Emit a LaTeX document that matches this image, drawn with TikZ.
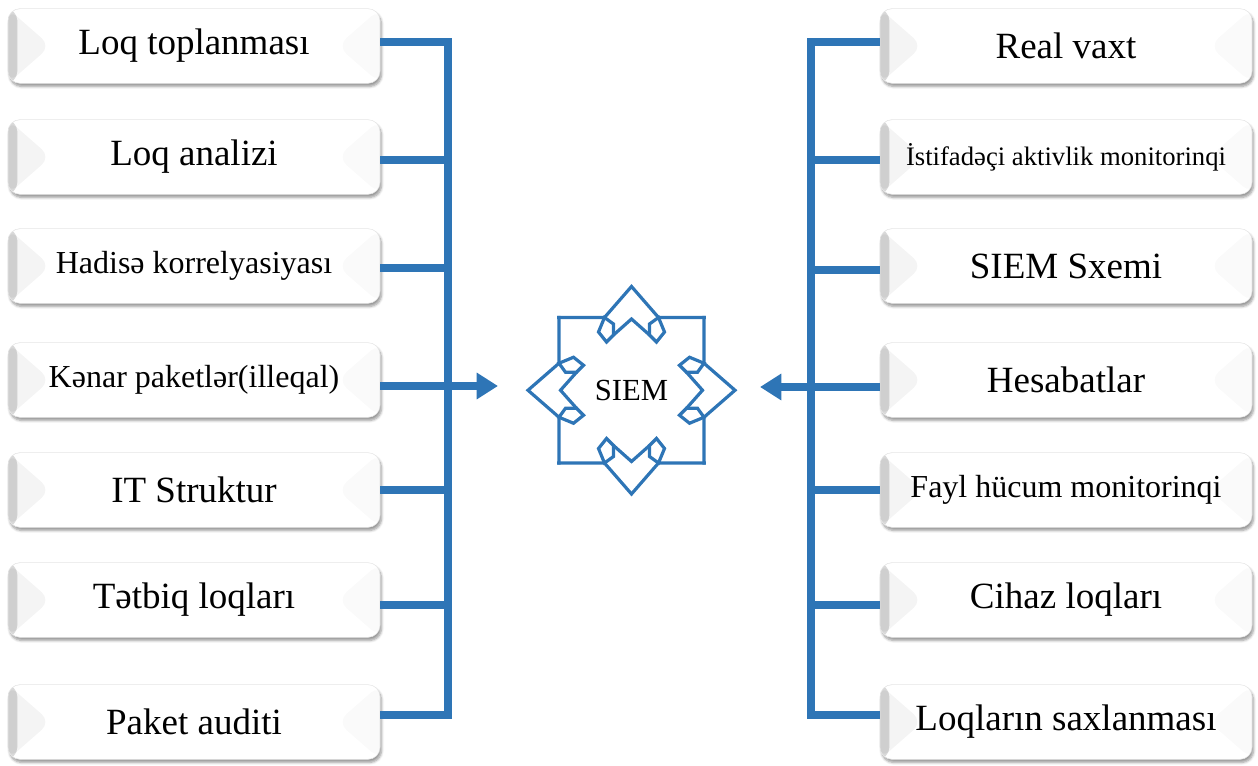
\documentclass[tikz,border=0pt]{standalone}
\usepackage{fontspec}
\setmainfont{Liberation Serif}
\usetikzlibrary{arrows.meta,shadows.blur,calc}
\definecolor{busblue}{RGB}{46,117,182}
\begin{document}
\begin{tikzpicture}[x=0.75pt,y=-0.75pt,
  box/.style={draw=gray!20, line width=0.4pt, fill=white, rounded corners=9pt,
    minimum width=279pt, minimum height=56pt, inner sep=0pt,
    blur shadow={shadow xshift=1.2pt, shadow yshift=-2.4pt, shadow blur steps=6, shadow opacity=40},
    path picture={
      \shade[left color=gray!30, right color=white]
        (path picture bounding box.north west) rectangle ([xshift=7pt]path picture bounding box.south west);
      \fill[black, opacity=0.045] (path picture bounding box.north west) -- ([xshift=32pt]path picture bounding box.west) -- (path picture bounding box.south west) -- cycle;
      \fill[black, opacity=0.02] (path picture bounding box.south east) -- ([xshift=-32pt]path picture bounding box.east) -- (path picture bounding box.north east) -- cycle;
    },
    font=\fontsize{27.75}{30}\selectfont},
  mid/.style={font=\fontsize{24}{26}\selectfont},
  sml/.style={font=\fontsize{20}{22}\selectfont},
  bus/.style={draw=busblue, line width=6.2pt, line join=miter},
  tip/.style={-{Triangle[length=16pt,width=19pt]}},
  siem/.style={draw=busblue, line width=2.4pt, line join=miter}
]
\useasboundingbox (0,0) rectangle (1258,766);

% left boxes
\node[box] (l1) at (194,46) {Loq toplanması};
\node[box] (l2) at (194,157) {Loq analizi};
\node[box,mid] (l3) at (194,266) {Hadisə korrelyasiyası};
\node[box,mid] (l4) at (194,380) {Kənar paketlər(illeqal)};
\node[box] (l5) at (194,490) {IT Struktur};
\node[box] (l6) at (194,600) {Tətbiq loqları};
\node[box] (l7) at (194,722) {Paket auditi};

% right boxes
\node[box] (r1) at (1066,46) {Real vaxt};
\node[box,sml] (r2) at (1066,157) {İstifadəçi aktivlik monitorinqi};
\node[box] (r3) at (1066,266) {SIEM Sxemi};
\node[box] (r4) at (1066,380) {Hesabatlar};
\node[box,mid] (r5) at (1066,490) {Fayl hücum monitorinqi};
\node[box] (r6) at (1066,600) {Cihaz loqları};
\node[box] (r7) at (1066,722) {Loqların saxlanması};

% bus coordinates
\coordinate (lb1) at (448,42);
\coordinate (lb2) at (448,160);
\coordinate (lb3) at (448,268);
\coordinate (lb4) at (448,386);
\coordinate (lb5) at (448,490);
\coordinate (lb6) at (448,605);
\coordinate (lb7) at (448,715);
\coordinate (rb1) at (811,42);
\coordinate (rb2) at (811,160);
\coordinate (rb3) at (811,270);
\coordinate (rb4) at (811,387);
\coordinate (rb5) at (811,490);
\coordinate (rb6) at (811,605);
\coordinate (rb7) at (811,715);
\coordinate (arrL) at (498,386);
\coordinate (arrR) at (760,387);

% left bus
\draw[bus] (l1.east |- lb1) -- (lb1) -- (lb7) -- (l7.east |- lb7);
\foreach \k in {2,3,5,6} \draw[bus] (l\k.east |- lb\k) -- (lb\k);
\draw[bus,tip] (l4.east |- lb4) -- (arrL);

% right bus
\draw[bus] (r1.west |- rb1) -- (rb1) -- (rb7) -- (r7.west |- rb7);
\foreach \k in {2,3,5,6} \draw[bus] (r\k.west |- rb\k) -- (rb\k);
\draw[bus,tip] (r4.west |- rb4) -- (arrR);

% SIEM emblem
\foreach \r/\px/\py in {0/631.5/317.5, 90/559/390.25, 180/631.5/463, 270/704/390.25}{
  \begin{scope}[shift={(\px,\py)}, rotate=\r]
    \draw[siem, line cap=rect] (-72.75,0) -- (-27,0) -- (0,-31) -- (27,0) -- (72.75,0);
    \draw[siem] (-27,0) -- (-33,14.5) -- (-25,24.5) -- (-18,17.5) -- (-18,6.5) -- cycle;
    \draw[siem] (27,0) -- (33,14.5) -- (25,24.5) -- (18,17.5) -- (18,6.5) -- cycle;
    \draw[siem] (-18,17.5) -- (0,1.5) -- (18,17.5);
  \end{scope}
}
\node[font=\fontsize{23}{25}\selectfont, inner sep=0pt] (siemtxt) at (631.5,390.5) {SIEM};
\end{tikzpicture}
\end{document}
